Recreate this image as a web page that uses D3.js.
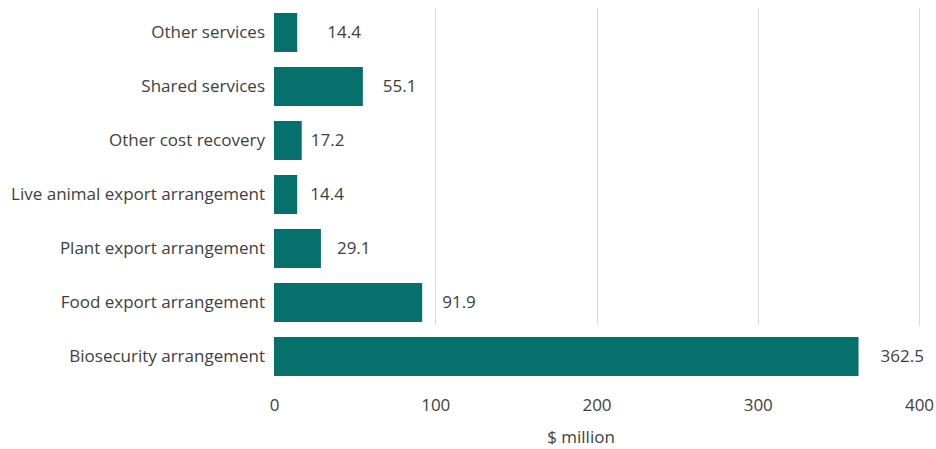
<!DOCTYPE html>
<html>
<head>
<meta charset="utf-8">
<script src="https://cdn.jsdelivr.net/npm/d3@7/dist/d3.min.js"></script>
<style>
  html, body { margin: 0; padding: 0; background: #ffffff; }
  svg { display: block; }
  text { font-family: "Open Sans", "Noto Sans", sans-serif; fill: #404040; }
</style>
</head>
<body>
<svg id="chart" width="936" height="449"></svg>
<script>
// Cost recovery revenue by arrangement, $ million
const categories = [
  "Other services",
  "Shared services",
  "Other cost recovery",
  "Live animal export arrangement",
  "Plant export arrangement",
  "Food export arrangement",
  "Biosecurity arrangement"
];
const values = [14.4, 55.1, 17.2, 14.4, 29.1, 91.9, 362.5];
const valueLabels = ["14.4", "55.1", "17.2", "14.4", "29.1", "91.9", "362.5"];
const xTicks = [0, 100, 200, 300, 400];
const xTitle = "$ million";

// gap between each bar end and its value label (px)
const labelGap = [30, 20, 9, 13, 16, 20, 22];

const svg = d3.select("#chart");
const barColor = "#06706d";
const gridColor = "#d9d9d9";
const fontSize = 17;

const x = d3.scaleLinear().domain([0, 400]).range([274, 919]);
const y = d3.scaleBand()
  .domain(categories)
  .range([5.5, 383.5])
  .paddingInner(0.278)
  .paddingOuter(0.139);

// vertical gridlines
svg.append("g")
  .selectAll("line")
  .data(xTicks.filter(d => d > 0))
  .join("line")
  .attr("x1", d => Math.round(x(d)) + 0.5)
  .attr("x2", d => Math.round(x(d)) + 0.5)
  .attr("y1", 8)
  .attr("y2", 325)
  .attr("stroke", gridColor)
  .attr("stroke-width", 1);

// bars
svg.append("g")
  .selectAll("rect")
  .data(categories)
  .join("rect")
  .attr("x", x(0))
  .attr("y", d => y(d))
  .attr("width", (d, i) => x(values[i]) - x(0))
  .attr("height", y.bandwidth())
  .attr("fill", barColor);

// value labels
svg.append("g")
  .selectAll("text")
  .data(categories)
  .join("text")
  .attr("x", (d, i) => x(values[i]) + labelGap[i])
  .attr("y", d => y(d) + y.bandwidth() / 2)
  .attr("dy", "0.35em")
  .attr("font-size", fontSize)
  .text((d, i) => valueLabels[i]);

// category axis (labels only)
const yAxis = svg.append("g")
  .attr("transform", `translate(${x(0)},0)`)
  .call(d3.axisLeft(y).tickSize(0).tickPadding(9));
yAxis.select(".domain").remove();
yAxis.selectAll("text")
  .attr("font-size", fontSize)
  .attr("font-family", null)
  .style("fill", "#404040");

// value axis (labels only)
const xAxis = svg.append("g")
  .attr("transform", "translate(0,399)")
  .call(d3.axisBottom(x).tickValues(xTicks).tickSize(0).tickPadding(0).tickFormat(d3.format("d")));
xAxis.select(".domain").remove();
xAxis.selectAll("text")
  .attr("font-size", fontSize)
  .attr("font-family", null)
  .attr("dy", "0.71em")
  .style("fill", "#404040");

// axis title
svg.append("text")
  .attr("x", 581)
  .attr("y", 437)
  .attr("dy", "0.35em")
  .attr("text-anchor", "middle")
  .attr("font-size", fontSize)
  .text(xTitle);
</script>
</body>
</html>
